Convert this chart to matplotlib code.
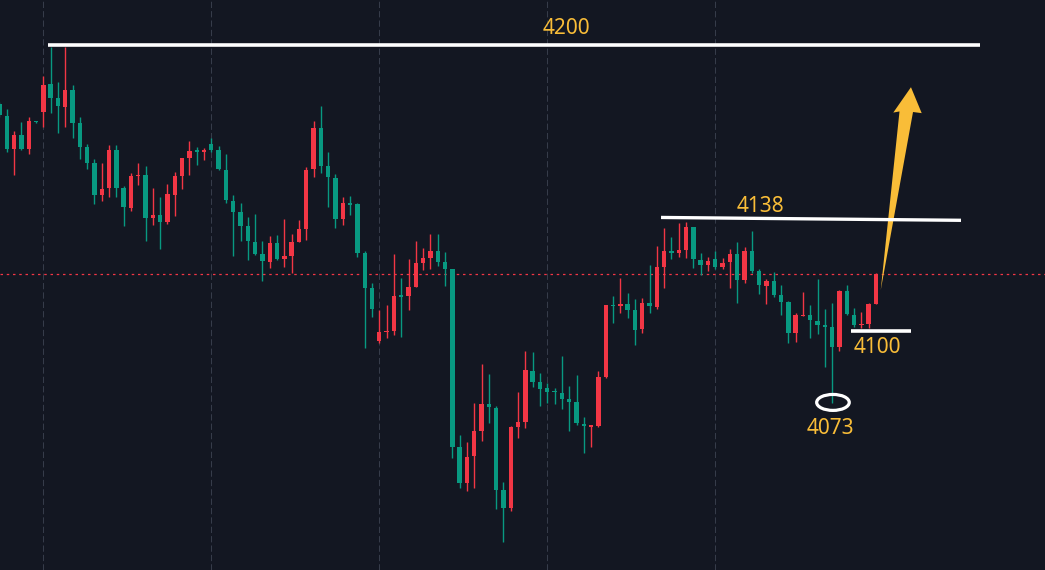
import numpy as np
import matplotlib
matplotlib.use("Agg")
import matplotlib.pyplot as plt
from matplotlib.patches import Polygon, Ellipse


# -------------------------------------------------
# Datos (OHLC por vela)
# -------------------------------------------------
opens = [4179.3, 4175.2, 4163.5, 4168.4, 4163.6, 4173.3, 4176.5, 4186.2, 4181.3, 4178.2,
         4184.2, 4172.5, 4164.1, 4158.7, 4147.5, 4149.8, 4163.2, 4149.8, 4142.9, 4154.1,
         4154.4, 4139.4, 4140.4, 4137.9, 4147.5, 4154.1, 4160.4, 4162.8, 4162.6, 4165.3,
         4163.2, 4156.2, 4145.4, 4141.4, 4136.5, 4131.0, 4126.8, 4123.9, 4130.4, 4124.9,
         4126.1, 4131.0, 4135.4, 4156.4, 4170.9, 4157.5, 4153.4, 4138.8, 4144.5, 4144.1,
         4126.9, 4114.8, 4096.2, 4099.3, 4099.7, 4112.2, 4111.9, 4115.1, 4123.6, 4125.3,
         4127.8, 4123.9, 4121.4, 4059.1, 4046.3, 4055.7, 4064.5, 4074.1, 4072.7, 4043.9,
         4037.6, 4066.0, 4067.6, 4085.7, 4081.8, 4079.5, 4078.6, 4078.0, 4075.8, 4074.7,
         4067.0, 4066.1, 4066.3, 4083.6, 4108.8, 4108.4, 4109.0, 4107.0, 4100.4, 4109.4,
         4108.1, 4122.2, 4127.8, 4127.0, 4128.1, 4136.0, 4124.6, 4122.7, 4124.9, 4122.0,
         4123.8, 4126.7, 4117.4, 4127.7, 4120.7, 4115.5, 4117.2, 4112.3, 4109.7, 4098.9,
         4105.0, 4105.4, 4103.2, 4101.8, 4101.1, 4094.1, 4113.6, 4105.3, 4101.8, 4102.0,
         4109.2]
highs = [4180.0, 4177.6, 4169.8, 4173.0, 4174.7, 4173.5, 4189.2, 4199.2, 4187.0, 4199.4,
         4186.0, 4174.6, 4165.4, 4160.0, 4158.5, 4165.0, 4164.8, 4150.5, 4155.0, 4158.5,
         4157.5, 4149.7, 4146.7, 4151.2, 4155.3, 4160.5, 4166.3, 4164.2, 4163.8, 4167.3,
         4164.6, 4161.8, 4147.4, 4144.7, 4139.7, 4140.8, 4131.2, 4133.0, 4133.4, 4138.8,
         4133.7, 4138.6, 4157.3, 4173.4, 4178.7, 4162.4, 4154.6, 4146.7, 4147.0, 4144.7,
         4127.7, 4116.4, 4107.0, 4108.7, 4126.7, 4118.2, 4124.9, 4131.1, 4128.8, 4133.8,
         4133.7, 4127.4, 4121.5, 4063.2, 4060.7, 4074.4, 4088.1, 4084.6, 4073.4, 4046.6,
         4066.4, 4078.1, 4092.7, 4092.4, 4084.9, 4081.3, 4079.5, 4091.0, 4080.4, 4084.1,
         4069.6, 4066.8, 4085.7, 4108.8, 4111.9, 4118.1, 4112.9, 4110.8, 4111.2, 4122.7,
         4129.5, 4135.9, 4132.7, 4137.7, 4137.8, 4136.2, 4127.0, 4125.7, 4127.8, 4125.3,
         4128.3, 4131.0, 4129.0, 4134.7, 4121.3, 4117.8, 4120.4, 4115.7, 4110.2, 4106.1,
         4113.3, 4108.9, 4118.0, 4107.5, 4109.4, 4114.0, 4115.9, 4107.6, 4106.2, 4109.6,
         4120.1]
lows = [4174.7, 4162.5, 4154.5, 4163.2, 4161.8, 4172.8, 4171.3, 4176.2, 4169.2, 4171.3,
        4167.4, 4160.1, 4156.6, 4144.3, 4145.4, 4146.8, 4146.8, 4136.5, 4141.8, 4150.8,
        4131.3, 4137.0, 4128.5, 4137.3, 4140.0, 4149.6, 4154.5, 4157.8, 4159.7, 4162.6,
        4156.1, 4144.7, 4126.0, 4131.2, 4124.6, 4126.3, 4117.1, 4121.9, 4124.6, 4122.1,
        4120.1, 4130.8, 4131.6, 4153.8, 4155.2, 4143.3, 4135.7, 4136.8, 4140.4, 4125.5,
        4093.7, 4104.5, 4095.3, 4097.1, 4098.1, 4097.6, 4106.9, 4115.0, 4121.0, 4121.4,
        4122.6, 4115.4, 4055.0, 4044.7, 4043.6, 4044.7, 4061.2, 4067.5, 4037.1, 4025.6,
        4036.6, 4062.1, 4065.7, 4080.1, 4073.4, 4074.3, 4074.0, 4072.4, 4064.7, 4066.8,
        4056.7, 4059.1, 4066.1, 4083.3, 4102.6, 4106.1, 4104.1, 4094.8, 4098.9, 4106.1,
        4107.5, 4114.8, 4124.9, 4125.7, 4125.3, 4121.9, 4119.3, 4120.8, 4121.3, 4121.3,
        4114.8, 4109.6, 4116.6, 4119.9, 4112.8, 4109.0, 4111.7, 4105.2, 4095.5, 4095.7,
        4104.9, 4097.3, 4098.7, 4087.1, 4074.3, 4092.6, 4105.3, 4101.2, 4100.6, 4100.6,
        4109.1]
closes = [4175.4, 4163.5, 4168.4, 4163.6, 4173.3, 4173.0, 4186.0, 4181.4, 4178.7, 4184.2,
          4172.7, 4164.2, 4158.7, 4147.5, 4149.6, 4163.2, 4149.8, 4143.1, 4154.1, 4154.3,
          4139.4, 4140.5, 4137.9, 4147.7, 4154.0, 4160.4, 4162.8, 4162.6, 4163.1, 4163.2,
          4156.4, 4145.6, 4141.5, 4136.5, 4131.1, 4126.8, 4124.2, 4130.4, 4124.8, 4126.1,
          4131.0, 4135.4, 4156.1, 4170.8, 4157.6, 4153.6, 4138.8, 4144.5, 4144.0, 4127.1,
          4114.8, 4107.5, 4099.3, 4099.7, 4112.0, 4111.7, 4115.0, 4123.5, 4125.2, 4127.8,
          4123.9, 4121.4, 4059.1, 4046.3, 4055.5, 4064.5, 4074.0, 4073.0, 4044.0, 4037.6,
          4066.1, 4067.8, 4085.9, 4081.9, 4079.2, 4078.4, 4078.1, 4075.8, 4074.8, 4067.3,
          4066.3, 4066.6, 4083.6, 4108.7, 4108.5, 4109.1, 4107.1, 4100.1, 4109.4, 4108.5,
          4122.2, 4127.8, 4127.1, 4128.1, 4136.0, 4124.8, 4122.8, 4124.2, 4122.0, 4123.6,
          4126.7, 4117.4, 4127.8, 4120.7, 4115.8, 4117.2, 4112.3, 4109.7, 4098.9, 4105.2,
          4105.3, 4103.4, 4101.8, 4101.2, 4094.1, 4113.8, 4105.5, 4101.8, 4102.1, 4109.1,
          4119.6]

# líneas de separación (índice de vela)
grid_idx = [6, 29, 52, 75, 98]

# niveles marcados
nivel_4200 = 4200
nivel_4138 = (4139.5, 4138.5)
nivel_4100 = 4099.5
minimo = 4074.6
precio_actual = closes[-1]

# -------------------------------------------------
# Estilo
# -------------------------------------------------
BG = "#131722"
ROJO = "#f23645"
VERDE = "#089981"
ORO = "#f9bd38"
GRID = "#363c4a"

fig = plt.figure(figsize=(10.45, 5.70), dpi=100, facecolor=BG)
ax = fig.add_axes([0, 0, 1, 1], facecolor=BG)
ax.set_xlim(0.07, 143.14)
ax.set_ylim(4015.8, 4215.8)
ax.set_axis_off()

# grid vertical punteado
for g in grid_idx:
    ax.axvline(g, color=GRID, lw=0.75, dashes=(6, 3), zorder=0)

# -------------------------------------------------
# Velas
# -------------------------------------------------
x = np.arange(len(opens))
o = np.array(opens)
h = np.array(highs)
l = np.array(lows)
c = np.array(closes)
colores = np.where(c >= o, ROJO, VERDE)

ax.vlines(x, l, h, colors=colores, lw=1.0, zorder=2)
cuerpo = np.maximum(np.abs(c - o), 0.4)
ax.bar(x, cuerpo, bottom=np.minimum(o, c), width=0.6, color=colores,
       linewidth=0, zorder=3)

# precio actual (línea roja punteada)
ax.axhline(precio_actual, color=ROJO, lw=0.9, dashes=(2, 3), zorder=1)

# -------------------------------------------------
# Anotaciones
# -------------------------------------------------
ax.plot([6.64, 134.24], [nivel_4200, nivel_4200], color="white", lw=2.6,
        solid_capstyle="butt", zorder=6)
ax.text(77.56, 4205.8, "4200", color=ORO, fontsize=15, family="Noto Sans",
        ha="center", va="center", zorder=7)

ax.plot([90.57, 131.64], list(nivel_4138), color="white", lw=2.4,
        solid_capstyle="butt", zorder=6)
ax.text(104.12, 4143.2, "4138", color=ORO, fontsize=15, family="Noto Sans",
        ha="center", va="center", zorder=7)

ax.plot([116.58, 124.8], [nivel_4100, nivel_4100], color="white", lw=2.6,
        solid_capstyle="butt", zorder=6)
ax.text(120.14, 4094.0, "4100", color=ORO, fontsize=15, family="Noto Sans",
        ha="center", va="center", zorder=7)

ax.add_patch(Ellipse((114.11, minimo), width=4.46, height=5.6, fill=False,
                     ec="white", lw=2.3, zorder=6))
ax.text(113.7, 4065.6, "4073", color=ORO, fontsize=15, family="Noto Sans",
        ha="center", va="center", zorder=7)

# flecha amarilla (cuña)
flecha = [(120.65, 4114.0), (123.22, 4176.7), (122.37, 4176.3),
          (124.79, 4185.2), (126.26, 4176.1), (125.07, 4176.5)]
ax.add_patch(Polygon(flecha, closed=True, fc=ORO, ec="none", zorder=5))

fig.savefig("out.png", dpi=100, facecolor=BG)
